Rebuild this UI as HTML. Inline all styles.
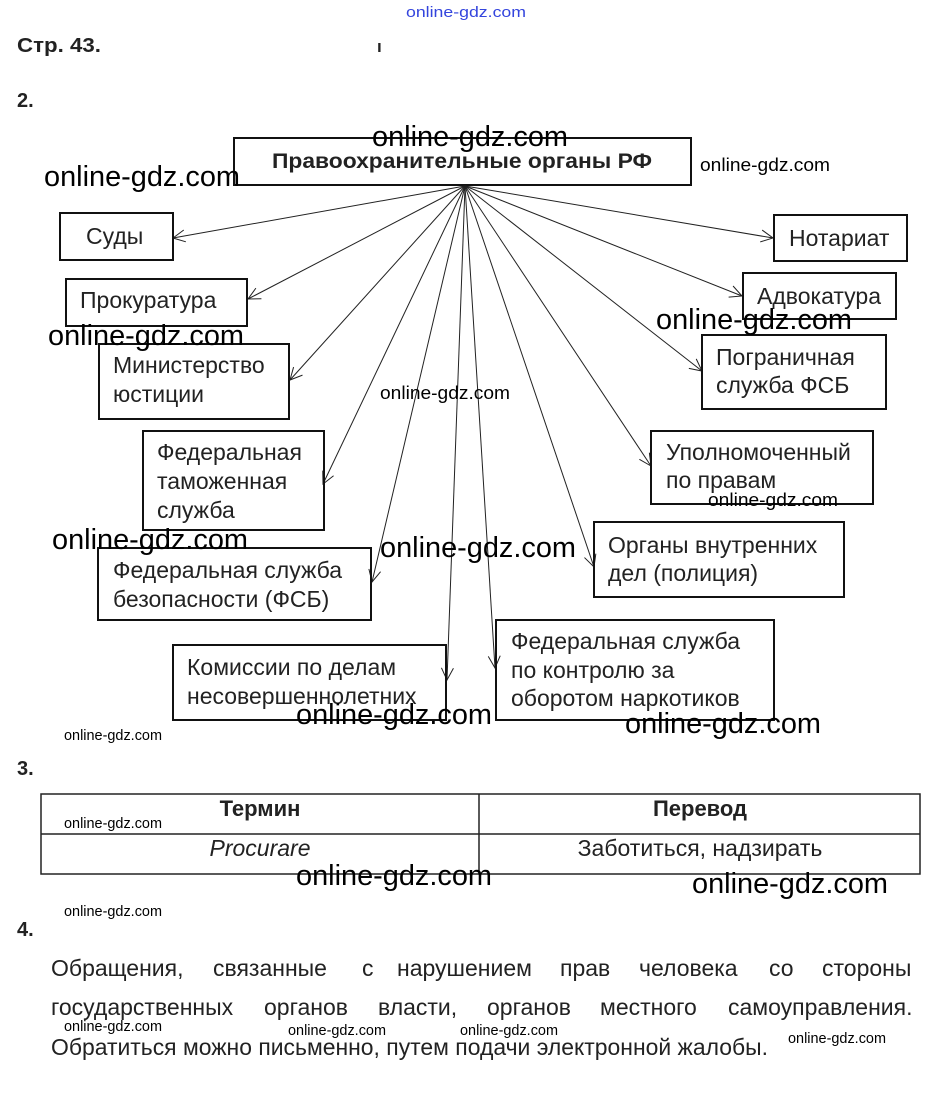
<!DOCTYPE html>
<html><head><meta charset="utf-8"><style>
html,body{margin:0;padding:0;background:#fff;}
svg{display:block;}
.l{font-family:"Liberation Sans","DejaVu Sans",sans-serif;font-size:23px;fill:#222;}
.h{font-family:"Liberation Sans",sans-serif;font-weight:bold;fill:#222;}
.w{font-family:"Liberation Sans Narrow","Liberation Sans",sans-serif;fill:#000;}
.bx{fill:none;stroke:#111;stroke-width:2;}
.ar{stroke:#222;stroke-width:1;fill:none;}
</style></head><body>
<svg width="933" height="1118" viewBox="0 0 933 1118" xmlns="http://www.w3.org/2000/svg">
<defs><marker id="m" markerWidth="14" markerHeight="14" refX="13" refY="7" orient="auto" markerUnits="userSpaceOnUse"><path d="M1,1 L13,7 L1,13" fill="none" stroke="#222" stroke-width="1"/></marker></defs>
<text x="406" y="17" class="w" font-size="15" style="fill:#3344dd" textLength="120" lengthAdjust="spacingAndGlyphs">online-gdz.com</text>
<text x="17" y="52" class="h" font-size="20" textLength="84" lengthAdjust="spacingAndGlyphs">Стр. 43.</text>
<text x="377" y="52" class="h" font-size="17">ı</text>
<text x="17" y="107" class="h" font-size="20">2.</text>

<rect x="234" y="138" width="457" height="47" class="bx"/>
<text x="462" y="168" class="h" font-size="21" text-anchor="middle" textLength="380" lengthAdjust="spacingAndGlyphs">Правоохранительные органы РФ</text>

<g class="ar" marker-end="url(#m)">
<line x1="465" y1="186" x2="173" y2="238"/>
<line x1="465" y1="186" x2="773" y2="238"/>
<line x1="465" y1="186" x2="248" y2="299"/>
<line x1="465" y1="186" x2="742" y2="296"/>
<line x1="465" y1="186" x2="290" y2="380"/>
<line x1="465" y1="186" x2="702" y2="371"/>
<line x1="465" y1="186" x2="323" y2="484"/>
<line x1="465" y1="186" x2="651" y2="466"/>
<line x1="465" y1="186" x2="372" y2="582"/>
<line x1="465" y1="186" x2="594" y2="567"/>
<line x1="465" y1="186" x2="447" y2="680"/>
<line x1="465" y1="186" x2="495" y2="668"/>
</g>

<rect x="60" y="213" width="113" height="47" class="bx"/>
<text x="86" y="244" class="l">Суды</text>
<rect x="66" y="279" width="181" height="47" class="bx"/>
<text x="80" y="308" class="l">Прокуратура</text>
<rect x="99" y="344" width="190" height="75" class="bx"/>
<text x="113" y="373" class="l">Министерство</text><text x="113" y="402" class="l">юстиции</text>
<rect x="143" y="431" width="181" height="99" class="bx"/>
<text x="157" y="460" class="l">Федеральная</text><text x="157" y="489" class="l">таможенная</text><text x="157" y="518" class="l">служба</text>
<rect x="98" y="548" width="273" height="72" class="bx"/>
<text x="113" y="578" class="l">Федеральная служба</text><text x="113" y="607" class="l">безопасности (ФСБ)</text>
<rect x="173" y="645" width="273" height="75" class="bx"/>
<text x="187" y="675" class="l">Комиссии по делам</text><text x="187" y="704" class="l">несовершеннолетних</text>

<rect x="774" y="215" width="133" height="46" class="bx"/>
<text x="789" y="246" class="l">Нотариат</text>
<rect x="743" y="273" width="153" height="46" class="bx"/>
<text x="757" y="304" class="l">Адвокатура</text>
<rect x="702" y="335" width="184" height="74" class="bx"/>
<text x="716" y="365" class="l">Пограничная</text><text x="716" y="393" class="l">служба ФСБ</text>
<rect x="651" y="431" width="222" height="73" class="bx"/>
<text x="666" y="460" class="l">Уполномоченный</text><text x="666" y="488" class="l">по правам</text>
<rect x="594" y="522" width="250" height="75" class="bx"/>
<text x="608" y="553" class="l">Органы внутренних</text><text x="608" y="581" class="l">дел (полиция)</text>
<rect x="496" y="620" width="278" height="100" class="bx"/>
<text x="511" y="649" class="l">Федеральная служба</text><text x="511" y="678" class="l">по контролю за</text><text x="511" y="706" class="l">оборотом наркотиков</text>

<text x="17" y="775" class="h" font-size="20">3.</text>
<rect x="41" y="794" width="879" height="80" fill="none" stroke="#222" stroke-width="1.5"/>
<line x1="41" y1="834" x2="920" y2="834" stroke="#222" stroke-width="1.5"/>
<line x1="479" y1="794" x2="479" y2="874" stroke="#222" stroke-width="1.5"/>
<text x="260" y="816" class="h" font-size="22" text-anchor="middle">Термин</text>
<text x="700" y="816" class="h" font-size="22" text-anchor="middle">Перевод</text>
<text x="260" y="856" class="l" font-style="italic" text-anchor="middle">Procurare</text>
<text x="700" y="856" class="l" text-anchor="middle">Заботиться, надзирать</text>

<text x="17" y="936" class="h" font-size="20">4.</text>
<text y="976" class="l"><tspan x="51">Обращения,</tspan><tspan x="213">связанные</tspan><tspan x="362">с</tspan><tspan x="397">нарушением</tspan><tspan x="560">прав</tspan><tspan x="639">человека</tspan><tspan x="769">со</tspan><tspan x="822">стороны</tspan></text>
<text y="1015" class="l"><tspan x="51">государственных</tspan><tspan x="264">органов</tspan><tspan x="378">власти,</tspan><tspan x="487">органов</tspan><tspan x="600">местного</tspan><tspan x="728">самоуправления.</tspan></text>
<text x="51" y="1055" class="l" textLength="717" lengthAdjust="spacingAndGlyphs">Обратиться можно письменно, путем подачи электронной жалобы.</text>

<g class="w">
<text x="372" y="146" font-size="29" textLength="196" lengthAdjust="spacingAndGlyphs">online-gdz.com</text>
<text x="44" y="186" font-size="29" textLength="196" lengthAdjust="spacingAndGlyphs">online-gdz.com</text>
<text x="700" y="171" font-size="18" textLength="130" lengthAdjust="spacingAndGlyphs">online-gdz.com</text>
<text x="48" y="345" font-size="29" textLength="196" lengthAdjust="spacingAndGlyphs">online-gdz.com</text>
<text x="656" y="329" font-size="29" textLength="196" lengthAdjust="spacingAndGlyphs">online-gdz.com</text>
<text x="380" y="399" font-size="18" textLength="130" lengthAdjust="spacingAndGlyphs">online-gdz.com</text>
<text x="708" y="506" font-size="18" textLength="130" lengthAdjust="spacingAndGlyphs">online-gdz.com</text>
<text x="52" y="549" font-size="29" textLength="196" lengthAdjust="spacingAndGlyphs">online-gdz.com</text>
<text x="380" y="557" font-size="29" textLength="196" lengthAdjust="spacingAndGlyphs">online-gdz.com</text>
<text x="296" y="724" font-size="29" textLength="196" lengthAdjust="spacingAndGlyphs">online-gdz.com</text>
<text x="625" y="733" font-size="29" textLength="196" lengthAdjust="spacingAndGlyphs">online-gdz.com</text>
<text x="64" y="740" font-size="15" textLength="98" lengthAdjust="spacingAndGlyphs">online-gdz.com</text>
<text x="64" y="828" font-size="15" textLength="98" lengthAdjust="spacingAndGlyphs">online-gdz.com</text>
<text x="296" y="885" font-size="29" textLength="196" lengthAdjust="spacingAndGlyphs">online-gdz.com</text>
<text x="692" y="893" font-size="29" textLength="196" lengthAdjust="spacingAndGlyphs">online-gdz.com</text>
<text x="64" y="916" font-size="15" textLength="98" lengthAdjust="spacingAndGlyphs">online-gdz.com</text>
<text x="64" y="1031" font-size="15" textLength="98" lengthAdjust="spacingAndGlyphs">online-gdz.com</text>
<text x="288" y="1035" font-size="15" textLength="98" lengthAdjust="spacingAndGlyphs">online-gdz.com</text>
<text x="460" y="1035" font-size="15" textLength="98" lengthAdjust="spacingAndGlyphs">online-gdz.com</text>
<text x="788" y="1043" font-size="15" textLength="98" lengthAdjust="spacingAndGlyphs">online-gdz.com</text>
</g>
</svg>
</body></html>
